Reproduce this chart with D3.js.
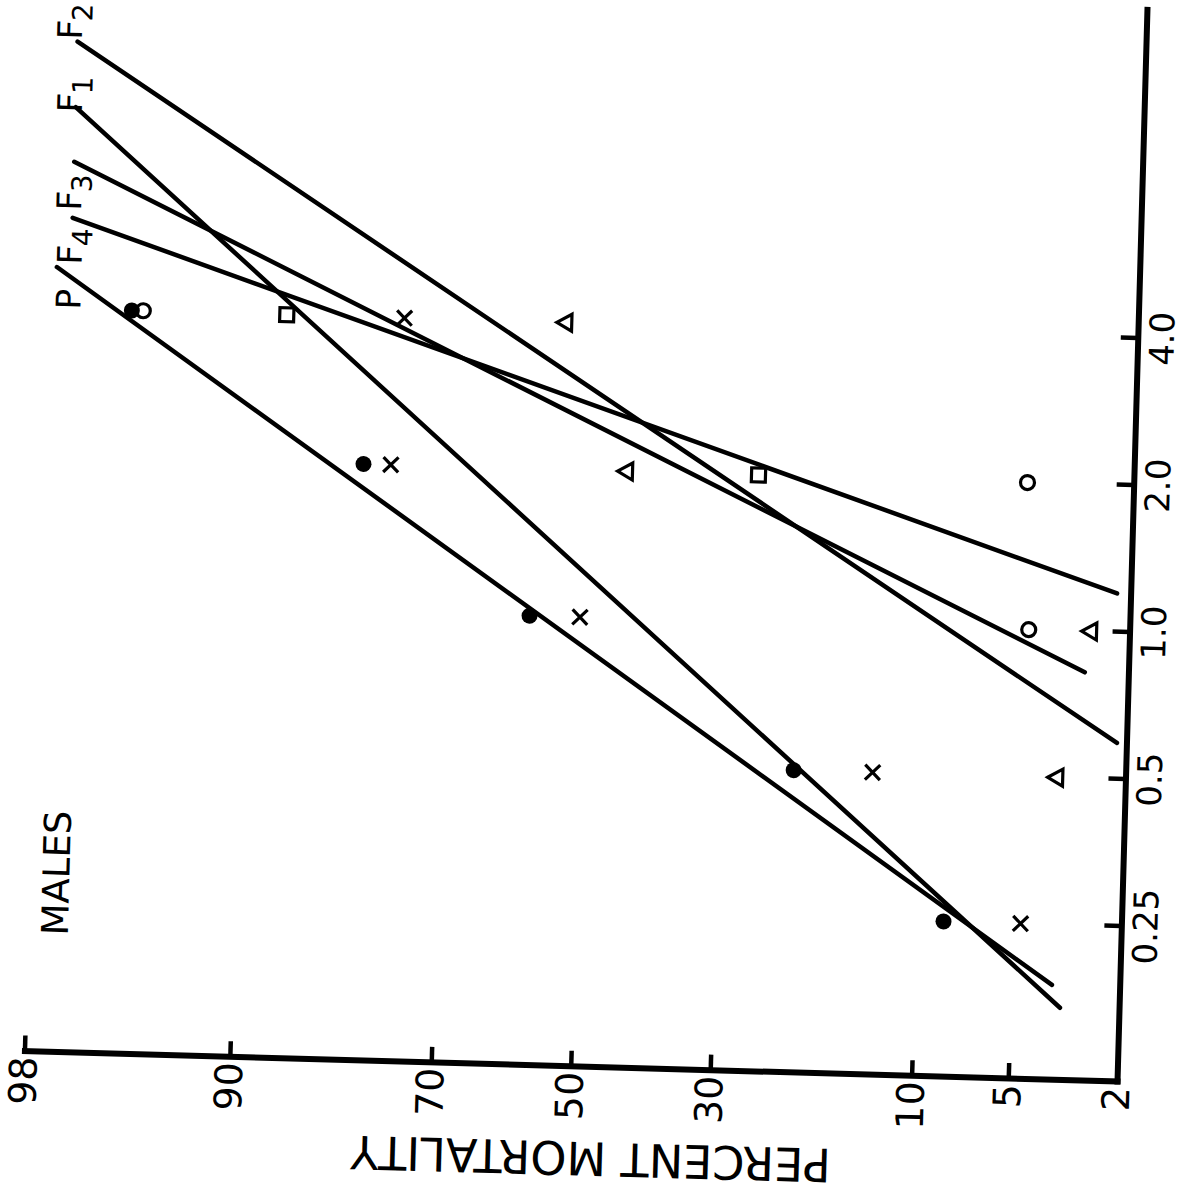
<!DOCTYPE html>
<html lang="en">
<head>
<meta charset="UTF-8">
<title>Males - percent mortality</title>
<script src="https://d3js.org/d3.v7.min.js"></script>
<style>
  body { margin: 0; background: #fff; }
  svg { display: block; }
</style>
</head>
<body>
<div id="chart"></div>
<script>
// dose axis (log) and mortality axis (probit)
const doses = [0.25, 0.5, 1.0, 2.0, 4.0];
const doseLabels = ["0.25", "0.5", "1.0", "2.0", "4.0"];
const pctTicks = [98, 90, 70, 50, 30, 10, 5, 2];

// observed % mortality at each dose (null = no point)
const pctP  = [8.3, 21, 58, 80, 95.8];
const pctF1 = [4.7, 13.5, 50.5, 77, 75.9];
const pctF2 = [null, 3.6, 2.8, 44, 53.7];
const pctF3 = [null, null, null, 26, 87.4];
const pctF4 = [null, null, 4.7, 4.9, 95.4];

// fitted lines, [dose, %] at both ends
const lineP  = [[0.188, 3.6], [4.86, 97.8]];
const lineF1 = [[0.169, 3.35], [10.35, 97.5]];
const lineF2 = [[0.593, 2.18], [14.1, 97.5]];
const lineF3 = [[0.824, 2.94], [8.0, 97.5]];
const lineF4 = [[1.20, 2.26], [6.14, 97.5]];

// inverse normal cdf (Acklam)
function probit(p) {
    const a = [-39.69683028665376, 220.9460984245205, -275.9285104469687, 138.3577518672690, -30.66479806614716, 2.506628277459239];
    const b = [-54.47609879822406, 161.5858368580409, -155.6989798598866, 66.80131188771972, -13.28068155288572];
    const c = [-0.007784894002430293, -0.3223964580411365, -2.400758277161838, -2.549732539343734, 4.374664141464968, 2.938163982698783];
    const d = [0.007784695709041462, 0.3224671290700398, 2.445134137142996, 3.754408661907416];
    const plow = 0.02425;
    let q, r;
    if (p < plow) {
        q = Math.sqrt(-2 * Math.log(p));
        return (((((c[0]*q+c[1])*q+c[2])*q+c[3])*q+c[4])*q+c[5]) / ((((d[0]*q+d[1])*q+d[2])*q+d[3])*q+1);
    }
    if (p > 1 - plow) {
        q = Math.sqrt(-2 * Math.log(1 - p));
        return -(((((c[0]*q+c[1])*q+c[2])*q+c[3])*q+c[4])*q+c[5]) / ((((d[0]*q+d[1])*q+d[2])*q+d[3])*q+1);
    }
    q = p - 0.5; r = q * q;
    return (((((a[0]*r+a[1])*r+a[2])*r+a[3])*r+a[4])*r+a[5])*q / (((((b[0]*r+b[1])*r+b[2])*r+b[3])*r+b[4])*r+1);
}

const w = 1184, h = 1195;
const font = '"DejaVu Sans", sans-serif';

const svg = d3.select('#chart').append('svg')
    .attr('width', w)
    .attr('height', h);
svg.append('rect').attr('width', w).attr('height', h).attr('fill', '#fff');

// the figure is printed turned a quarter turn (scan is a bit skewed too)
const g = svg.append('g').attr('transform', 'translate(1117,1082) rotate(-88.4)');

const xLen = 1072, yLen = 1093;
const x = d3.scaleLog().domain([0.12, 18.8]).range([0, xLen]);
const y = d3.scaleLinear().domain([probit(0.02), probit(0.98)]).range([0, -yLen]);
const yp = p => y(probit(p / 100));

const xAxis = d3.axisBottom(x)
    .tickValues(doses)
    .tickFormat((d, i) => doseLabels[i])
    .tickSizeInner(-17).tickSizeOuter(0).tickPadding(12);
const yAxis = d3.axisLeft(y)
    .tickValues(pctTicks.map(p => probit(p / 100)))
    .tickFormat((d, i) => pctTicks[i])
    .tickSizeInner(-16).tickSizeOuter(0).tickPadding(5);

const gx = g.append('g').call(xAxis).attr('font-size', 34);
const gy = g.append('g').call(yAxis).attr('font-size', 38);
[gx, gy].forEach(a => {
    a.attr('font-family', font);
    a.select('.domain').attr('stroke-width', 6).attr('stroke-linecap', 'square');
    a.selectAll('.tick line').attr('stroke-width', 4.5);
    a.selectAll('.tick text').attr('fill', '#000');
});

// fitted lines
const lines = [lineP, lineF1, lineF2, lineF3, lineF4];
const lineGen = d3.line().x(d => x(d[0])).y(d => yp(d[1]));
g.selectAll('path.fit')
    .data(lines)
    .enter()
    .append('path')
    .attr('class', 'fit')
    .attr('d', lineGen)
    .attr('fill', 'none')
    .attr('stroke', '#000')
    .attr('stroke-width', 4.5)
    .attr('stroke-linecap', 'round');

// points
const series = [
    { pct: pctP, shape: 'dot' },
    { pct: pctF1, shape: 'cross' },
    { pct: pctF2, shape: 'triangle' },
    { pct: pctF3, shape: 'square' },
    { pct: pctF4, shape: 'circle' }
];
const shapes = {
    dot: 'M-8,0A8,8 0 1,0 8,0A8,8 0 1,0 -8,0Z',
    circle: 'M-7,0A7,7 0 1,0 7,0A7,7 0 1,0 -7,0Z',
    cross: 'M-7.5,-7.5L7.5,7.5M7.5,-7.5L-7.5,7.5',
    triangle: 'M0,-10L8.5,5L-8.5,5Z',
    square: 'M-7,-7H7V7H-7Z'
};
series.forEach(s => {
    const pts = doses.map((d, i) => [d, s.pct[i]]).filter(p => p[1] != null);
    g.selectAll(null)
        .data(pts)
        .enter()
        .append('path')
        .attr('transform', d => 'translate(' + x(d[0]) + ',' + yp(d[1]) + ')')
        .attr('d', shapes[s.shape])
        .attr('fill', s.shape === 'dot' ? '#000' : 'none')
        .attr('stroke', '#000')
        .attr('stroke-width', s.shape === 'dot' ? 0 : 3.2);
});

// line labels (inner-frame pixel positions)
const labels = [
    { main: 'P', sub: '', at: [743, -1058] },
    { main: 'F', sub: '4', at: [788, -1058] },
    { main: 'F', sub: '3', at: [842, -1060] },
    { main: 'F', sub: '1', at: [940, -1062] },
    { main: 'F', sub: '2', at: [1013, -1064] }
];
labels.forEach(l => {
    const t = g.append('text')
        .attr('x', l.at[0]).attr('y', l.at[1])
        .attr('font-family', font).attr('font-size', 34);
    t.append('tspan').text(l.main);
    if (l.sub) t.append('tspan').attr('font-size', 28).attr('dy', 10).attr('dx', -1).text(l.sub);
});

g.append('text')
    .attr('x', 117).attr('y', -1053)
    .attr('font-family', font).attr('font-size', 37)
    .text('MALES');

g.append('text')
    .attr('transform', 'translate(-75,-524) rotate(-90)')
    .attr('text-anchor', 'middle')
    .attr('font-family', font).attr('font-size', 46)
    .text('PERCENT MORTALITY');
</script>
</body>
</html>
